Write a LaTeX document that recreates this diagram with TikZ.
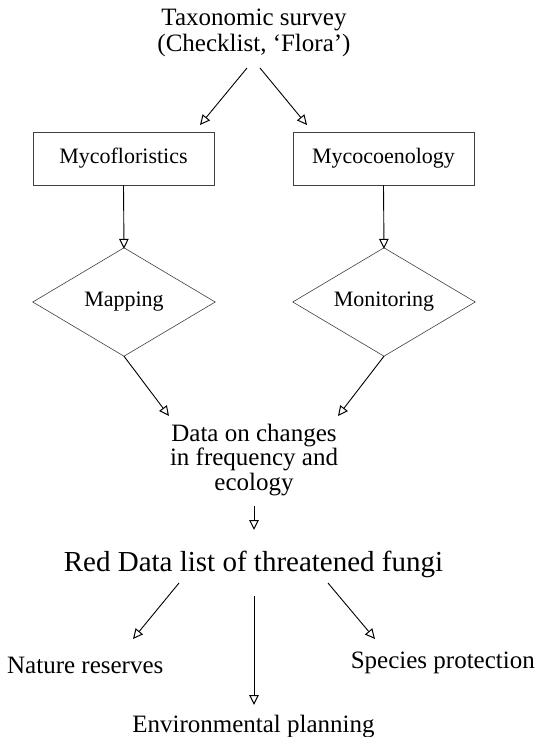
\documentclass[tikz,border=0pt]{standalone}
\usepackage{fontspec}
\setmainfont{Liberation Serif}
\usetikzlibrary{arrows.meta}
\begin{document}
\begin{tikzpicture}[x=1pt,y=-1pt,
  txt/.style={inner sep=0pt, align=center, font=\fontsize{25}{25}\selectfont},
  boxtxt/.style={draw=black!75, line width=0.7pt, inner sep=0pt, minimum width=181pt, minimum height=53pt, font=\fontsize{22}{24}\selectfont},
  diatxt/.style={inner sep=0pt, minimum width=182pt, minimum height=108pt, font=\fontsize{22}{24}\selectfont},
  dia/.style={draw=black!75, line width=0.6pt},
  arr/.style={draw=black, line width=0.9pt, -{Triangle[open, length=10pt, width=9.5pt, line width=1pt]}}
]
\useasboundingbox (0,0) rectangle (540,737);

\node[txt, font=\fontsize{25}{26}\selectfont] (tax) at (254,33) {Taxonomic survey\\(Checklist, ‘Flora’)};
\node[boxtxt] (mf) at (123.5,158.5) {Mycofloristics};
\node[boxtxt] (mc) at (383.5,158.5) {Mycocoenology};
\node[diatxt] (map) at (124,302) {Mapping};
\node[diatxt] (mon) at (384,302) {Monitoring};
\draw[dia] (map.north) -- (map.east) -- (map.south) -- (map.west) -- cycle;
\draw[dia] (mon.north) -- (mon.east) -- (mon.south) -- (mon.west) -- cycle;
\node[txt, font=\fontsize{25}{24.5}\selectfont] (data) at (254,460) {Data on changes\\in frequency and\\ecology};
\node[txt, font=\fontsize{29}{32}\selectfont, anchor=base] (red) at (253.5,571) {Red Data list of threatened fungi};
\node[txt, anchor=base west] (nat) at (7,673) {Nature reserves};
\node[txt, anchor=base east] (spec) at (535,668) {Species protection};
\node[txt, anchor=base] (env) at (253.5,732) {Environmental planning};

\coordinate (t1) at (247,68);
\coordinate (t2) at (260,68);
\coordinate (m1) at (200,125);
\coordinate (m2) at (307,125);
\coordinate (d1) at (169,416);
\coordinate (d2) at (338,416);
\coordinate (e1) at (254,506);
\coordinate (e2) at (254,530);
\coordinate (r1) at (179,583);
\coordinate (r2) at (254,596);
\coordinate (r3) at (328,583);
\coordinate (n1) at (133,639);
\coordinate (v1) at (254,705);
\coordinate (s1) at (375,639);

\draw[arr] (t1) -- (m1);
\draw[arr] (t2) -- (m2);
\draw[arr] (mf.south) -- ([yshift=-1pt]map.north);
\draw[arr] (mc.south) -- ([yshift=-1pt]mon.north);
\draw[arr] (map.south) -- (d1);
\draw[arr] (mon.south) -- (d2);
\draw[arr] (e1) -- (e2);
\draw[arr] (r1) -- (n1);
\draw[arr] (r2) -- (v1);
\draw[arr] (r3) -- (s1);
\end{tikzpicture}
\end{document}
